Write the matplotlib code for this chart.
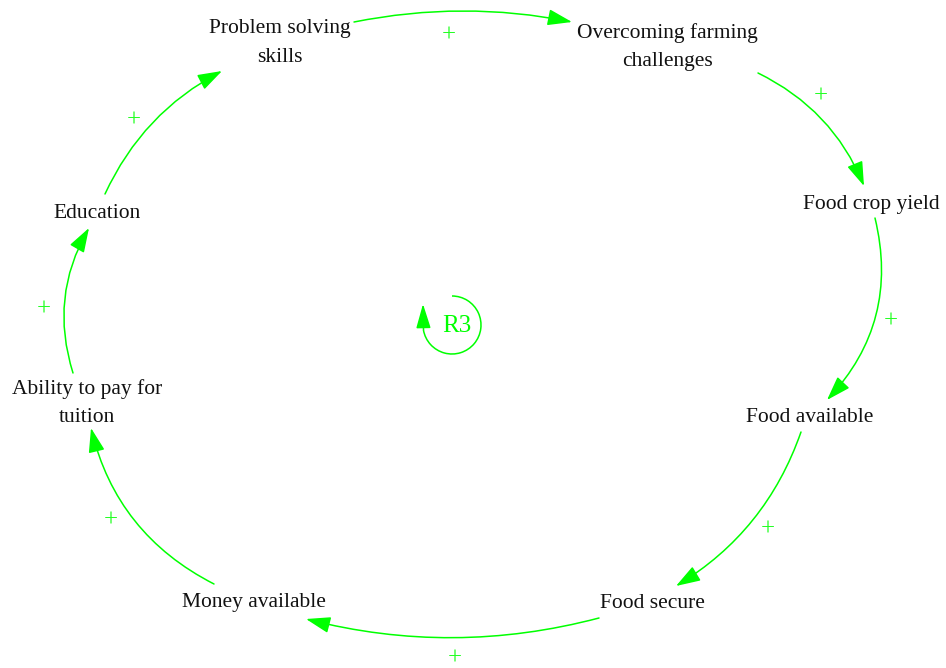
import matplotlib.pyplot as plt
from matplotlib.patches import FancyArrowPatch, Arc

W, H = 946, 668
GREEN = "#00ff00"
PLUS_GREEN = "#22ff22"
FONT = ["Liberation Serif", "DejaVu Serif"]

plt.rcParams["mathtext.fontset"] = "custom"
plt.rcParams["mathtext.rm"] = "Liberation Serif"

# nodes of the causal loop
node_labels = [
    "Problem solving\nskills",
    "Overcoming farming\nchallenges",
    "Food crop yield",
    "Food available",
    "Food secure",
    "Money available",
    "Ability to pay for\ntuition",
    "Education",
]
node_x = [280, 667, 871, 810, 652, 254, 87, 97]
node_y = [43, 47, 204, 417, 603, 603, 403, 213]

# links (from -> to), all positive polarity
link_from = [0, 1, 2, 3, 4, 5, 6, 7]
link_to = [1, 2, 3, 4, 5, 6, 7, 0]
link_sign = ["+", "+", "+", "+", "+", "+", "+", "+"]

# drawn geometry of each link: tail point, head point, arc curvature
link_tail = [(354, 22), (758, 73), (875, 218), (801, 432),
             (599, 618), (214, 584), (73, 373), (105, 194)]
link_head = [(572, 22), (864, 186), (827, 400), (676, 586),
             (306, 619), (91, 428), (89, 228), (222, 71)]
link_rad = [-0.10, -0.19, -0.27, -0.18, -0.13, -0.23, -0.22, -0.17]
sign_pos = [(448, 33), (820, 94), (890, 319), (767, 527),
            (454, 656), (110, 518), (43, 307), (133, 118)]

loop_name = "R3"
loop_center = (452, 325)
loop_radius = 29

fig = plt.figure(figsize=(W / 100, H / 100), dpi=100)
ax = fig.add_axes([0, 0, 1, 1])
ax.set_xlim(0, W)
ax.set_ylim(H, 0)
ax.axis("off")

for label, x, y in zip(node_labels, node_x, node_y):
    ax.text(x, y, label, ha="center", va="center", multialignment="center",
            fontsize=15.5, family=FONT, color="#111111", linespacing=1.65)

for i in range(len(link_from)):
    arrow = FancyArrowPatch(
        link_tail[i], link_head[i],
        connectionstyle=f"arc3,rad={link_rad[i]}",
        arrowstyle="-|>,head_length=1.5,head_width=0.5",
        mutation_scale=10, color=GREEN, linewidth=1.1,
        shrinkA=0, shrinkB=0,
    )
    ax.add_patch(arrow)
    # mathtext keeps the box tight around the sign
    sx, sy = sign_pos[i]
    ax.text(sx, sy, f"${link_sign[i]}$", ha="center", va="center",
            fontsize=18, color=PLUS_GREEN)

# loop identifier with circular arrow
cx, cy = loop_center
ax.add_patch(Arc(loop_center, 2 * loop_radius, 2 * loop_radius,
                 theta1=-90, theta2=170, color=GREEN, linewidth=1.1))
ax.add_patch(FancyArrowPatch(
    (cx - loop_radius + 0.5, cy + 5), (cx - loop_radius, cy - 21),
    arrowstyle="-|>,head_length=1.5,head_width=0.45",
    mutation_scale=10, color=GREEN, linewidth=1.1, shrinkA=0, shrinkB=0,
))
ax.text(cx + 5, cy + 1, loop_name, ha="center", va="center",
        fontsize=18, family=FONT, color=GREEN)

fig.savefig("out.png", dpi=100)
